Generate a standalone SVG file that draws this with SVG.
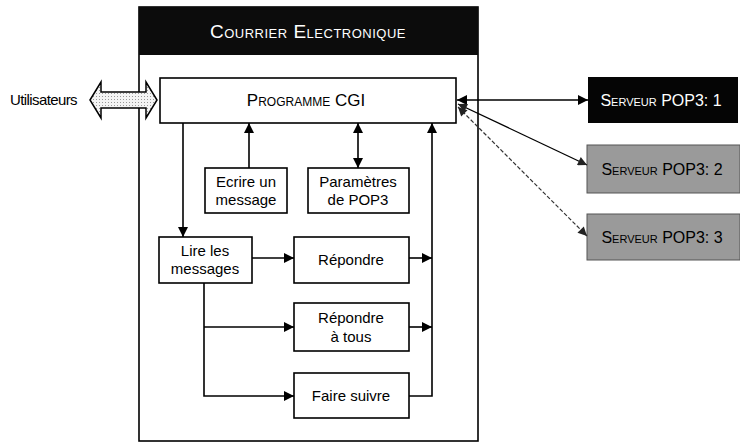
<svg xmlns="http://www.w3.org/2000/svg" width="740" height="444" viewBox="0 0 740 444">
<defs>
<style>
.box{fill:#fff;stroke:#000;stroke-width:1.6}
.t{font-family:"Liberation Sans","DejaVu Sans",Arial,sans-serif;font-size:15px;fill:#000;text-anchor:middle}
.sc{font-family:"Liberation Sans","DejaVu Sans",Arial,sans-serif;font-variant:small-caps;text-anchor:middle}
.ln{fill:none;stroke:#000;stroke-width:1.6}
.gray{fill:#9a9a9a}
</style>
<marker id="ah" viewBox="0 0 10 10" refX="10" refY="5" markerWidth="13" markerHeight="10" markerUnits="userSpaceOnUse" orient="auto-start-reverse">
<path d="M0,0 L10,5 L0,10 Z" fill="#000"/>
</marker>
<marker id="ahs" viewBox="0 0 10 10" refX="10" refY="5" markerWidth="10" markerHeight="9" markerUnits="userSpaceOnUse" orient="auto-start-reverse">
<path d="M0,0 L10,5 L0,10 Z" fill="#222"/>
</marker>
<pattern id="dots" width="3" height="3" patternUnits="userSpaceOnUse">
<rect width="3" height="3" fill="#f4f4f4"/>
<rect width="1" height="1" fill="#999"/>
</pattern>
</defs>

<g id="frame">
<rect x="139" y="7" width="339" height="434" fill="#fff" stroke="#000" stroke-width="1.6"/>
<rect x="139" y="7" width="339" height="48" fill="#0c0c0c"/>
<text class="sc" x="308" y="38" font-size="19" fill="#fff" letter-spacing="0.5">Courrier Electronique</text>
</g>

<g id="utilisateurs">
<text x="10" y="105" font-family="Liberation Sans,Arial,sans-serif" font-size="15" letter-spacing="-0.6" fill="#000">Utilisateurs</text>
<polygon points="90,100 101,82 101,92 146,92 146,82 157,100 146,118 146,108 101,108 101,118" fill="url(#dots)" stroke="#000" stroke-width="1.5"/>
</g>

<g id="cgi">
<rect class="box" x="160" y="78" width="296" height="45"/>
<text class="sc" x="306" y="106" font-size="17">Programme CGI</text>
</g>

<g id="ecrire">
<rect class="box" x="205" y="168" width="82" height="45"/>
<text class="t" x="246" y="187">Ecrire un</text>
<text class="t" x="246" y="205">message</text>
</g>

<g id="parametres">
<rect class="box" x="308" y="168" width="101" height="45"/>
<text class="t" x="358" y="187">Paramètres</text>
<text class="t" x="358" y="205">de POP3</text>
</g>

<g id="lire">
<rect class="box" x="159" y="237" width="93" height="46"/>
<text class="t" x="205" y="256">Lire les</text>
<text class="t" x="205" y="274">messages</text>
</g>

<g id="repondre">
<rect class="box" x="294" y="237" width="115" height="46"/>
<text class="t" x="351" y="265">Répondre</text>
</g>

<g id="repondre-tous">
<rect class="box" x="294" y="303" width="115" height="48"/>
<text class="t" x="351" y="323">Répondre</text>
<text class="t" x="351" y="342">à tous</text>
</g>

<g id="faire-suivre">
<rect class="box" x="294" y="373" width="115" height="45"/>
<text class="t" x="351" y="401">Faire suivre</text>
</g>

<g id="serveur1">
<rect x="588" y="77" width="150" height="46" fill="#050505"/>
<text class="sc" x="661" y="106" font-size="16" fill="#fff">Serveur POP3: 1</text>
</g>

<g id="serveur2">
<rect class="gray" x="587" y="145" width="153" height="48" stroke="#555" stroke-width="1"/>
<text class="sc" x="662" y="175" font-size="16" fill="#000">Serveur POP3: 2</text>
</g>

<g id="serveur3">
<rect class="gray" x="587" y="214" width="153" height="46" stroke="#555" stroke-width="1"/>
<text class="sc" x="662" y="243" font-size="16" fill="#000">Serveur POP3: 3</text>
</g>

<g id="connectors">
<line class="ln" x1="183" y1="123" x2="183" y2="237" marker-end="url(#ah)"/>
<line class="ln" x1="249" y1="168" x2="249" y2="123" marker-end="url(#ah)"/>
<line class="ln" x1="358" y1="123" x2="358" y2="168" marker-start="url(#ah)" marker-end="url(#ah)"/>
<polyline class="ln" points="409,396 432,396 432,123" marker-end="url(#ah)"/>
<line class="ln" x1="409" y1="258" x2="432" y2="258" marker-end="url(#ah)"/>
<line class="ln" x1="409" y1="327" x2="432" y2="327" marker-end="url(#ah)"/>
<line class="ln" x1="252" y1="258" x2="294" y2="258" marker-end="url(#ah)"/>
<polyline class="ln" points="204,283 204,396 294,396" marker-end="url(#ah)"/>
<line class="ln" x1="204" y1="327" x2="294" y2="327" marker-end="url(#ah)"/>
<line class="ln" x1="457" y1="100" x2="588" y2="100" stroke-width="1.4" marker-start="url(#ah)" marker-end="url(#ah)"/>
<line x1="458" y1="104" x2="587" y2="165" stroke="#000" stroke-width="1.3" marker-start="url(#ahs)" marker-end="url(#ahs)"/>
<line x1="458" y1="107" x2="587" y2="236" stroke="#333" stroke-width="1.2" stroke-dasharray="4,2" marker-start="url(#ahs)" marker-end="url(#ahs)"/>
</g>
</svg>
